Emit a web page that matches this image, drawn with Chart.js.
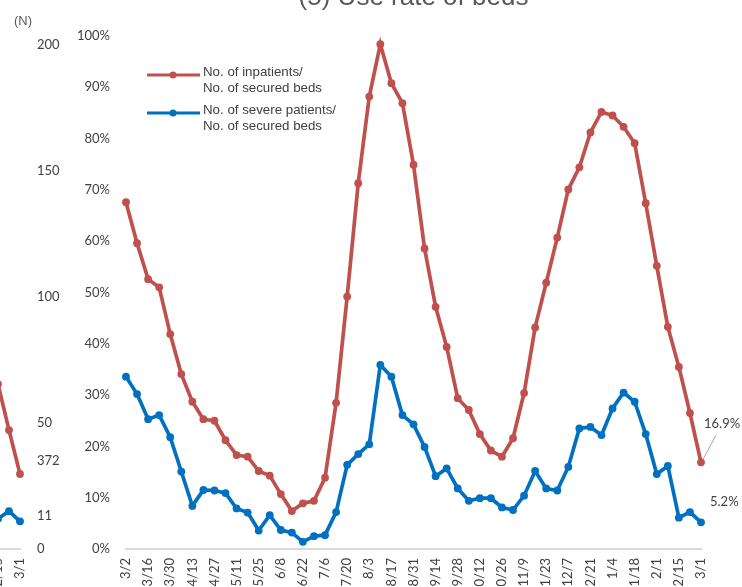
<!DOCTYPE html>
<html>
<head>
<meta charset="utf-8">
<title>(5) Use rate of beds</title>
<script src="https://cdn.jsdelivr.net/npm/chart.js@4.4.1/dist/chart.umd.min.js"></script>
<style>
  html, body { margin: 0; padding: 0; background: #fff; overflow: hidden; }
  #wrap { position: relative; width: 742px; height: 587px; overflow: hidden; }
  #prev-chart { position: absolute; left: -10px; top: -20px; }
  #rate-chart { position: absolute; left: 0; top: -20px; }
</style>
</head>
<body>
<div id="wrap">
  <canvas id="prev-chart" width="90" height="607"></canvas>
  <canvas id="rate-chart" width="742" height="607"></canvas>
</div>
<script>
// weekly data, 2020-03-02 .. 2021-03-01
const weeks = ['3/2', '3/9', '3/16', '3/23', '3/30', '4/6', '4/13', '4/20', '4/27', '5/4',
    '5/11', '5/18', '5/25', '6/1', '6/8', '6/15', '6/22', '6/29', '7/6', '7/13',
    '7/20', '7/27', '8/3', '8/10', '8/17', '8/24', '8/31', '9/7', '9/14', '9/21',
    '9/28', '10/5', '10/12', '10/19', '10/26', '11/2', '11/9', '11/16', '11/23', '11/30',
    '12/7', '12/14', '12/21', '12/28', '1/4', '1/11', '1/18', '1/25', '2/1', '2/8',
    '2/15', '2/22', '3/1'];

// No. of inpatients / No. of secured beds (%)
const inpatientRate = [67.6, 59.6, 52.6, 51.0, 41.9, 34.1, 28.7, 25.3, 25.0, 21.2,
    18.3, 18.0, 15.2, 14.3, 10.7, 7.4, 8.9, 9.4, 13.9, 28.5,
    49.2, 71.3, 88.2, 98.4, 90.8, 86.9, 74.9, 58.6, 47.2, 39.4,
    29.4, 27.1, 22.4, 19.2, 18.0, 21.6, 30.4, 43.2, 51.9, 60.7,
    70.1, 74.4, 81.2, 85.2, 84.5, 82.3, 79.1, 67.4, 55.2, 43.3,
    35.5, 26.5, 16.9];

// No. of severe patients / No. of secured beds (%)
const severeRate = [33.6, 30.2, 25.3, 26.1, 21.8, 15.1, 8.4, 11.5, 11.4, 10.9,
    7.9, 7.1, 3.6, 6.6, 3.7, 3.2, 1.4, 2.5, 2.7, 7.2,
    16.4, 18.5, 20.4, 35.9, 33.6, 26.1, 24.3, 19.9, 14.2, 15.7,
    11.8, 9.4, 9.9, 9.9, 8.1, 7.6, 10.4, 15.2, 11.8, 11.4,
    16.0, 23.5, 23.8, 22.2, 27.4, 30.5, 28.7, 22.4, 14.6, 16.2,
    6.1, 7.2, 5.2];

// tail of the neighbouring chart (counts), only the part that shows
const prevWeeks = ['2/15', '2/22', '3/1'];
const prevInpatients = [818, 590, 372];
const prevSevere = [12, 15, 11];

const RED = '#C0504D';
const BLUE = '#0070C0';
const TEXT = '#404040';
const tickFont = { family: 'Lato', size: 13 };

// legend drawn inside the plot, like the original
const legendAt = {
    id: 'legendAt',
    afterDraw(chart, args, opts) {
        const ctx = chart.ctx;
        chart.data.datasets.forEach((ds, i) => {
            const y = opts.rows[i];
            ctx.save();
            ctx.strokeStyle = ds.borderColor;
            ctx.lineWidth = 3;
            ctx.beginPath();
            ctx.moveTo(opts.x, y);
            ctx.lineTo(opts.x + 53, y);
            ctx.stroke();
            ctx.fillStyle = ds.borderColor;
            ctx.beginPath();
            ctx.arc(opts.x + 26, y, 3.5, 0, Math.PI * 2);
            ctx.fill();
            ctx.fillStyle = TEXT;
            ctx.font = '13.3px "Liberation Sans"';
            ctx.textBaseline = 'middle';
            ds.label.split('\n').forEach((line, j) => {
                ctx.fillText(line, opts.x + 56, y - 3 + j * 16.5);
            });
            ctx.restore();
        });
    }
};

// value label next to the last point of each series
const endLabels = {
    id: 'endLabels',
    afterDatasetsDraw(chart, args, opts) {
        const ctx = chart.ctx;
        chart.data.datasets.forEach((ds, i) => {
            const pts = chart.getDatasetMeta(i).data;
            const p = pts[pts.length - 1];
            const off = opts.offsets[i];
            ctx.save();
            if (off.leader) {
                ctx.strokeStyle = '#a6a6a6';
                ctx.lineWidth = 1;
                ctx.beginPath();
                ctx.moveTo(p.x + 2, p.y - 3);
                ctx.lineTo(p.x + 15, p.y - 27);
                ctx.stroke();
            }
            ctx.fillStyle = TEXT;
            ctx.font = '13px Lato';
            ctx.textBaseline = 'middle';
            ctx.fillText(opts.format(ds.data[ds.data.length - 1]), p.x + off.dx, p.y + off.dy);
            ctx.restore();
        });
    }
};

const unitLabel = {
    id: 'unitLabel',
    afterDraw(chart) {
        const ctx = chart.ctx;
        ctx.save();
        ctx.fillStyle = '#595959';
        ctx.font = '13px "Liberation Sans"';
        ctx.textAlign = 'right';
        ctx.textBaseline = 'middle';
        ctx.fillText('(N)', chart.chartArea.right + 12, chart.chartArea.top - 24);
        ctx.restore();
    }
};

function lineSet(label, data, color, axis) {
    return {
        label: label,
        data: data,
        yAxisID: axis,
        borderColor: color,
        backgroundColor: color,
        borderWidth: 3.7,
        pointRadius: 3.9,
        pointBorderWidth: 0,
        pointHoverRadius: 0,
        tension: 0,
        clip: false
    };
}

function dateAxis(labels) {
    return {
        grid: { display: false, drawTicks: false },
        border: { color: '#d9d9d9', width: 2 },
        ticks: {
            autoSkip: false,
            minRotation: 90,
            maxRotation: 90,
            padding: 9,
            color: TEXT,
            font: tickFont,
            callback: (v, i) => i % 2 === 0 ? labels[i] : ''
        },
        afterFit: s => { s.height = 38; s.paddingLeft = 0; s.paddingRight = 0; }
    };
}

new Chart(document.getElementById('prev-chart'), {
    type: 'line',
    data: {
        labels: prevWeeks,
        datasets: [
            lineSet('inpatients', prevInpatients, RED, 'y'),
            lineSet('severe patients', prevSevere, BLUE, 'y1')
        ]
    },
    options: {
        responsive: false,
        animation: false,
        devicePixelRatio: 1,
        layout: { padding: { left: 8, right: 15, top: 65, bottom: 0 } },
        plugins: {
            legend: { display: false },
            tooltip: { enabled: false },
            endLabels: {
                offsets: [{ dx: 17, dy: -13 }, { dx: 17, dy: -5 }],
                format: v => String(v)
            }
        },
        scales: {
            x: dateAxis(prevWeeks),
            y: { display: false, min: 0, max: 2500 },
            y1: {
                position: 'right',
                min: 0,
                max: 200,
                grid: { display: false, drawTicks: false },
                border: { display: false },
                ticks: { stepSize: 50, padding: 17, color: TEXT, font: tickFont },
                afterFit: s => { s.width = 45; }
            }
        }
    },
    plugins: [endLabels, unitLabel]
});

new Chart(document.getElementById('rate-chart'), {
    type: 'line',
    data: {
        labels: weeks,
        datasets: [
            lineSet('No. of inpatients/\nNo. of secured beds', inpatientRate, RED, 'y'),
            lineSet('No. of severe patients/\nNo. of secured beds', severeRate, BLUE, 'y')
        ]
    },
    options: {
        responsive: false,
        animation: false,
        devicePixelRatio: 1,
        layout: { padding: { left: 0, right: 41, top: 0, bottom: 0 } },
        plugins: {
            legend: { display: false },
            tooltip: { enabled: false },
            title: {
                display: true,
                fullSize: false,
                text: '(5) Use rate of beds',
                color: '#595959',
                font: { family: 'Liberation Sans', size: 26, weight: 'normal' },
                padding: { top: 2.6, bottom: 22.2 }
            },
            legendAt: { x: 147, rows: [95, 133] },
            endLabels: {
                offsets: [{ dx: 3, dy: -38, leader: true }, { dx: 9, dy: -21 }],
                format: v => v.toFixed(1) + '%'
            }
        },
        scales: {
            x: dateAxis(weeks),
            y: {
                min: 0,
                max: 100,
                grid: { display: false, drawTicks: false },
                border: { display: false },
                ticks: {
                    stepSize: 10,
                    padding: 16,
                    color: TEXT,
                    font: tickFont,
                    callback: v => v + '%'
                },
                afterFit: s => { s.width = 126; }
            }
        }
    },
    plugins: [legendAt, endLabels]
});
</script>
</body>
</html>
